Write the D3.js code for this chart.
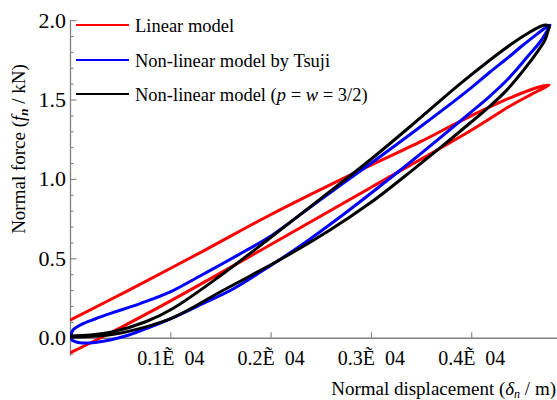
<!DOCTYPE html>
<html>
<head>
<meta charset="utf-8">
<script src="https://cdn.jsdelivr.net/npm/d3@7"></script>
<style>
  html, body { margin: 0; padding: 0; background: #fff; }
  svg { display: block; }
</style>
</head>
<body>
<svg id="chart" width="557" height="400" style="font-family:'Liberation Serif'"></svg>
<script>
// ---- data (x in units of 1e-4 m, y in kN) ----
const seriesNames = ["Linear model", "Non-linear model by Tsuji", "Non-linear model (p = w = 3/2)"];
const seriesColors = ["#ff0000", "#0000ff", "#000000"];

// Linear model: open loop clipped at x = 0 (upper branch, then lower branch)
const linearModel = [
  [0.000, 0.111], [0.0588, 0.300], [0.1346, 0.552], [0.1994, 0.773], [0.2792, 1.024],
  [0.3490, 1.233], [0.3918, 1.372], [0.4317, 1.491], [0.4586, 1.560], [0.4716, 1.585],
  [0.4776, 1.591],
  [0.4716, 1.570], [0.4586, 1.528], [0.4387, 1.459], [0.3988, 1.302], [0.2991, 0.943],
  [0.1994, 0.584], [0.1017, 0.237], [0.0419, 0.036], [0.000, -0.096]
];

// Non-linear model by Tsuji: closed loop
const tsujiModel = [
  [0.001, 0.011], [0.003, 0.049], [0.012, 0.086], [0.0249, 0.118], [0.0419, 0.156],
  [0.0698, 0.215], [0.1017, 0.294], [0.1296, 0.389], [0.1496, 0.458], [0.1745, 0.546],
  [0.1994, 0.637], [0.2493, 0.867], [0.2991, 1.094], [0.3490, 1.327], [0.3958, 1.553],
  [0.4187, 1.673], [0.4387, 1.774], [0.4517, 1.843], [0.4656, 1.912], [0.4736, 1.950],
  [0.4786, 1.969],
  [0.4756, 1.932], [0.4686, 1.862], [0.4566, 1.774], [0.4457, 1.692], [0.4337, 1.610],
  [0.4187, 1.522], [0.3988, 1.415], [0.3689, 1.258], [0.3320, 1.069], [0.2991, 0.905],
  [0.2692, 0.760], [0.2323, 0.590], [0.1994, 0.452], [0.1625, 0.307], [0.1296, 0.206],
  [0.1017, 0.124], [0.0798, 0.067], [0.0588, 0.017], [0.0399, -0.014], [0.0249, -0.030],
  [0.0120, -0.033], [0.0050, -0.024], [0.0010, -0.008]
];

// Non-linear model (p = w = 3/2): loop starting and ending at x = 0
const nonlinearModel = [
  [0.000, 0.011], [0.0199, 0.017], [0.0419, 0.036], [0.0748, 0.099], [0.1017, 0.181],
  [0.1496, 0.389], [0.1994, 0.628], [0.2493, 0.873], [0.2991, 1.119], [0.3490, 1.383],
  [0.3888, 1.598], [0.4187, 1.749], [0.4387, 1.843], [0.4536, 1.906], [0.4656, 1.950],
  [0.4736, 1.969], [0.4776, 1.963],
  [0.4766, 1.932], [0.4736, 1.875], [0.4666, 1.806], [0.4586, 1.737], [0.4467, 1.642],
  [0.4337, 1.548], [0.4187, 1.459], [0.3988, 1.352], [0.3689, 1.195], [0.3390, 1.043],
  [0.3190, 0.943], [0.2991, 0.848], [0.2592, 0.678], [0.2124, 0.502], [0.1795, 0.389],
  [0.1496, 0.288], [0.1196, 0.180], [0.1017, 0.124], [0.0748, 0.067], [0.0419, 0.020],
  [0.0199, 0.008], [0.000, 0.004]
];

const xTicks = [0.1, 0.2, 0.3, 0.4];
const xTickLabels = ["0.1Ẽ\u200204", "0.2Ẽ\u200204", "0.3Ẽ\u200204", "0.4Ẽ\u200204"];
const yTicks = [0.0, 0.5, 1.0, 1.5, 2.0];
const yTickLabels = ["0.0", "0.5", "1.0", "1.5", "2.0"];
const yMinorTicks = [-0.1, 0.1, 0.2, 0.3, 0.4, 0.6, 0.7, 0.8, 0.9, 1.1, 1.2, 1.3, 1.4, 1.6, 1.7, 1.8, 1.9];

// ---- drawing ----
const FONT = "'Liberation Serif', 'Times New Roman', serif";
const svg = d3.select("#chart");
const W = 557, H = 400;
const x = d3.scaleLinear().domain([0, 0.486]).range([70, 557.5]);
const y = d3.scaleLinear().domain([-0.11, 2.0]).range([355.2, 20.1]);
const axisColor = "#808080";

svg.append("defs").append("clipPath").attr("id", "plotclip")
  .append("rect").attr("x", x(0)).attr("y", 0).attr("width", W - x(0)).attr("height", H);

// Y axis (major)
const yAxis = svg.append("g").attr("transform", `translate(${x(0)},0)`)
  .call(d3.axisLeft(y).tickValues(yTicks).tickFormat((d, i) => yTickLabels[i])
    .tickSizeInner(-6.5).tickSizeOuter(0).tickPadding(4));
yAxis.attr("font-family", null);
yAxis.select(".domain").attr("stroke", axisColor).attr("stroke-width", 1.3);
yAxis.selectAll(".tick line").attr("stroke", axisColor).attr("stroke-width", 1.1);
yAxis.selectAll(".tick text").attr("fill", "#000")
  .style("font-family", FONT).style("font-size", "22px");

// Y axis (minor)
const yMinor = svg.append("g").attr("transform", `translate(${x(0)},0)`)
  .call(d3.axisLeft(y).tickValues(yMinorTicks).tickFormat("").tickSizeInner(-3.5).tickSizeOuter(0));
yMinor.select(".domain").remove();
yMinor.selectAll(".tick line").attr("stroke", axisColor).attr("stroke-width", 1.1);

// X axis
const xAxis = svg.append("g").attr("transform", `translate(0,${y(0)})`)
  .call(d3.axisBottom(x).tickValues(xTicks).tickFormat((d, i) => xTickLabels[i])
    .tickSizeInner(-5.5).tickSizeOuter(0).tickPadding(13));
xAxis.attr("font-family", null);
xAxis.select(".domain").attr("stroke", axisColor).attr("stroke-width", 1.3);
xAxis.selectAll(".tick line").attr("stroke", axisColor).attr("stroke-width", 1.1);
xAxis.selectAll(".tick text").attr("fill", "#000")
  .style("white-space", "pre").style("font-family", FONT).style("font-size", "20px");

// curves
const lineOpen = d3.line().x(d => x(d[0])).y(d => y(d[1])).curve(d3.curveCatmullRom.alpha(0.5));
const lineClosed = d3.line().x(d => x(d[0])).y(d => y(d[1])).curve(d3.curveCatmullRomClosed.alpha(0.5));
const plot = svg.append("g").attr("clip-path", "url(#plotclip)");
plot.append("path").attr("d", lineOpen(linearModel)).attr("fill", "none")
  .attr("stroke", seriesColors[0]).attr("stroke-width", 3).attr("stroke-linejoin", "round");
plot.append("path").attr("d", lineClosed(tsujiModel)).attr("fill", "none")
  .attr("stroke", seriesColors[1]).attr("stroke-width", 3).attr("stroke-linejoin", "round");
plot.append("path").attr("d", lineOpen(nonlinearModel)).attr("fill", "none")
  .attr("stroke", seriesColors[2]).attr("stroke-width", 3).attr("stroke-linejoin", "round");

// legend
const legY = [25, 60, 94];
const leg = svg.append("g");
seriesNames.forEach((name, i) => {
  leg.append("line").attr("x1", 76).attr("x2", 129).attr("y1", legY[i]).attr("y2", legY[i])
    .attr("stroke", seriesColors[i]).attr("stroke-width", 2.2);
  const t = leg.append("text").attr("x", 135).attr("y", legY[i] + 7)
    .style("font-family", FONT).style("font-size", "18.5px");
  if (i < 2) {
    t.text(name);
  } else {
    t.append("tspan").text("Non-linear model (");
    t.append("tspan").attr("font-style", "italic").text("p");
    t.append("tspan").text(" = ");
    t.append("tspan").attr("font-style", "italic").text("w");
    t.append("tspan").text(" = 3/2)");
  }
});

// y axis title
const yt = svg.append("text").attr("transform", "translate(25,149) rotate(-90)")
  .attr("text-anchor", "middle").style("font-family", FONT).style("font-size", "19px");
yt.append("tspan").text("Normal force (");
yt.append("tspan").attr("font-style", "italic").text("f");
yt.append("tspan").attr("font-style", "italic").attr("font-weight", "bold")
  .style("font-size", "13px").attr("dy", 3).text("n");
yt.append("tspan").attr("dy", -3).text(" / kN)");

// x axis title
const xt = svg.append("text").attr("x", 556).attr("y", 395)
  .attr("text-anchor", "end").style("font-family", FONT).style("font-size", "19px");
xt.append("tspan").text("Normal displacement (");
xt.append("tspan").attr("font-style", "italic").text("δ");
xt.append("tspan").attr("font-style", "italic").style("font-size", "12px").attr("dy", 3).text("n");
xt.append("tspan").attr("dy", -3).text(" / m)");
</script>
</body>
</html>
